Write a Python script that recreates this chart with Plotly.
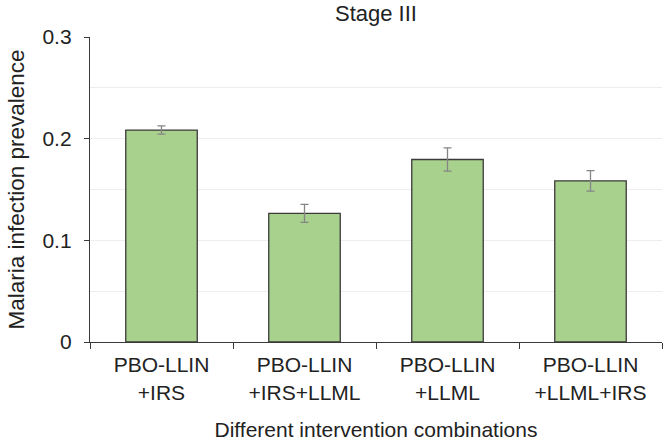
import plotly.graph_objects as go

categories = ["PBO-LLIN<br>+IRS", "PBO-LLIN<br>+IRS+LLML", "PBO-LLIN<br>+LLML", "PBO-LLIN<br>+LLML+IRS"]
prevalence = [0.2085, 0.1265, 0.1795, 0.1585]
errors = [0.004, 0.0088, 0.0115, 0.010]
y_ticks = [0, 0.1, 0.2, 0.3]
y_tick_labels = ["0", "0.1", "0.2", "0.3"]

FONT = "Liberation Sans, Arial, Helvetica, sans-serif"
TXT = "#222222"

fig = go.Figure(go.Bar(
    x=categories, y=prevalence,
    marker=dict(color="#a9d18e", line=dict(color="#3a3a3a", width=1.3)),
    error_y=dict(type="data", array=errors, color="#858585", thickness=1.3, width=4),
))

fig.update_layout(
    width=663, height=447,
    margin=dict(l=90, r=1, t=37, b=105),
    paper_bgcolor="white", plot_bgcolor="white",
    bargap=0.5,
    showlegend=False,
    font=dict(family=FONT, color=TXT),
    title=dict(text="Stage III", x=0.5, xref="paper", xanchor="center",
               yref="container", y=1 - 13 / 447, yanchor="middle",
               font=dict(size=22, family=FONT, color=TXT)),
)
fig.update_yaxes(
    range=[0, 0.3], tickvals=y_ticks, ticktext=y_tick_labels,
    showgrid=True, gridcolor="#eeeeee", gridwidth=1,
    minor=dict(dtick=0.05, tick0=0, showgrid=True, gridcolor="#eeeeee", gridwidth=1),
    showline=True, linecolor="#3a3a3a", linewidth=1.3,
    ticks="outside", ticklen=5, tickcolor="#3a3a3a", tickwidth=1.3,
    ticklabelstandoff=8,
    tickfont=dict(size=21, family=FONT, color=TXT),
    title=dict(text="Malaria infection prevalence", font=dict(size=22.5, family=FONT, color=TXT), standoff=11),
    zeroline=False, automargin=False,
)
fig.update_xaxes(
    showline=True, linecolor="#3a3a3a", linewidth=1.3,
    ticks="outside", tickson="boundaries", ticklen=6, tickcolor="#3a3a3a", tickwidth=1.3,
    ticklabelstandoff=4,
    tickfont=dict(size=21, family=FONT, color=TXT),
    title=dict(text="Different intervention combinations", font=dict(size=21, family=FONT, color=TXT), standoff=19),
    automargin=False,
)

fig.write_html("out.html", config={"displayModeBar": False},
               post_script="document.body.style.margin='0';")
